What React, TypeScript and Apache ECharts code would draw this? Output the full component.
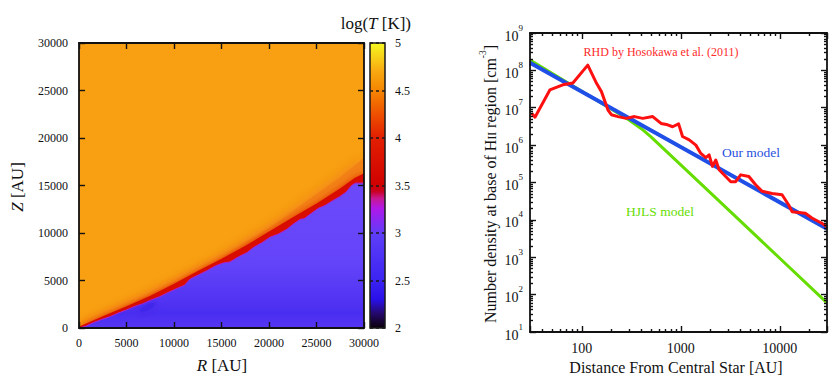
import React, { useEffect, useRef } from "react";
import * as echarts from "echarts";

// ---------- Left panel: temperature map log(T [K]) ----------
const mapTicks = [0, 5000, 10000, 15000, 20000, 25000, 30000];
// jagged boundary between hot (ionised) gas and cold disk (top of blue region)
const boundaryR = [0, 700, 1500, 2400, 3300, 4200, 5000, 5800, 6700, 7600, 8500, 9400, 10300, 11100, 11700, 12600, 13500, 14400, 15200, 15900, 16800, 17700, 18400, 19300, 20100, 21000, 21900, 22500, 23300, 23700, 24500, 25200, 25900, 26700, 27400, 28100, 28700, 29100, 30000];
const boundaryZ = [0, 180, 560, 900, 1200, 1600, 1900, 2250, 2550, 2950, 3300, 3750, 4150, 4500, 5150, 5600, 6050, 6550, 6850, 6950, 7500, 7950, 8500, 9000, 9550, 9900, 10400, 10900, 11450, 11500, 12100, 12600, 12900, 13400, 13800, 14300, 15000, 15250, 15250];
// top of the dark red transition layer
const redBandR = [0, 2500, 5000, 7500, 10000, 12500, 15000, 17500, 20000, 22500, 25000, 27500, 29000, 30000];
const redBandZ = [150, 1250, 2300, 3400, 4650, 6000, 7300, 8650, 10150, 11650, 13100, 14700, 15800, 16300];
// top of the orange-red glow
const glowR = [0, 5000, 10000, 15000, 20000, 22500, 25000, 27500, 29000, 30000];
const glowZ = [150, 2400, 4800, 7450, 10500, 12300, 14100, 15900, 17100, 17900];
const coldSpot = [7200, 2150];
// colour bar
const cbarMin = 2;
const cbarMax = 5;
const cbarStep = 0.5;

// ---------- Right panel: number density ----------
const rhdR = [31.2, 33.7, 47.6, 64.4, 81.3, 115, 141, 158, 184, 199, 232, 281, 341, 413, 521, 632, 737, 827, 951, 1042, 1217, 1421, 1595, 1790, 1933, 2088, 2258, 2438, 2844, 3199, 3590, 4030, 4878, 5700, 6640, 8370, 10550, 12310, 13300, 18120, 21120, 26620, 30000];
const rhdN = [7.1e6, 5.6e6, 3.0e7, 4.1e7, 4.6e7, 1.38e8, 4.5e7, 2.7e7, 8.7e6, 6.5e6, 5.8e6, 5.2e6, 5.8e6, 5.2e6, 5.8e6, 3.8e6, 3.5e6, 3.1e6, 3.7e6, 1.7e6, 1.38e6, 1.0e6, 6.0e5, 4.6e5, 5.5e5, 2.7e5, 4.0e5, 2.2e5, 1.45e5, 1.05e5, 1.05e5, 1.6e5, 1.45e5, 8.7e4, 5.8e4, 5.1e4, 4.7e4, 2.5e4, 1.66e4, 1.5e4, 1.12e4, 8.1e3, 6.6e3];
const hjlsR = [30, 50, 100, 200, 300, 400, 500, 1000, 3000, 10000, 30000];
const hjlsN = [1.9e8, 8.3e7, 2.75e7, 9.1e6, 4.7e6, 2.75e6, 1.67e6, 2.95e5, 1.9e4, 940, 60];
const ourR = [30, 30000];
const ourN = [1.6e8, 5.8e3];
const distMin = 30;
const distMax = 30000;
const densMin = 1e1;
const densMax = 1e9;
const distDecades = [10, 100, 1000, 10000];
const densDecades = [1e1, 1e2, 1e3, 1e4, 1e5, 1e6, 1e7, 1e8];

const zip = (xs: number[], ys: number[]) => xs.map((x, i) => [x, ys[i]]);

export default function App() {
  const ref = useRef<HTMLDivElement>(null);

  useEffect(() => {
    if (!ref.current) return;
    const chart = echarts.init(ref.current, null, { renderer: "svg" });
    const serif = "'Liberation Serif', 'Times New Roman', serif";
    const ink = "#111";

    const xMinor: number[] = [];
    distDecades.forEach((d) => {
      for (let m = 2; m <= 9; m++) {
        const v = m * d;
        if (v > distMin && v < distMax) xMinor.push(Math.log10(v));
      }
    });
    const yMinor: number[] = [];
    densDecades.forEach((d) => {
      for (let m = 2; m <= 9; m++) {
        const v = m * d;
        if (v > densMin && v < densMax) yMinor.push(Math.log10(v));
      }
    });

    const isDecade = (v: number) => Math.abs(Math.log10(v) - Math.round(Math.log10(v))) < 1e-6;

    const cbarGradient = new echarts.graphic.LinearGradient(0, 1, 0, 0, [
      { offset: 0, color: "#0a0008" },
      { offset: 0.05, color: "#24086a" },
      { offset: 0.1, color: "#2a10e8" },
      { offset: 0.17, color: "#3c24f2" },
      { offset: 0.33, color: "#5e3ef8" },
      { offset: 0.38, color: "#8a28f2" },
      { offset: 0.42, color: "#b018e8" },
      { offset: 0.455, color: "#c81890" },
      { offset: 0.48, color: "#c80020" },
      { offset: 0.5, color: "#d00000" },
      { offset: 0.67, color: "#e22000" },
      { offset: 0.75, color: "#ee5000" },
      { offset: 0.83, color: "#f48400" },
      { offset: 0.9, color: "#f8a810" },
      { offset: 1, color: "#f6f820" },
    ]);

    const blueGradient = new echarts.graphic.LinearGradient(0, 0, 0, 1, [
      { offset: 0, color: "#6c4afb" },
      { offset: 0.55, color: "#6444f9" },
      { offset: 0.8, color: "#5234f3" },
      { offset: 0.9, color: "#4a2ef0" },
      { offset: 1, color: "#5536f3" },
    ]);

    const line = { show: true, onZero: false, lineStyle: { color: ink, width: 1.8 } };
    const tick = (len: number) => ({ show: true, inside: true, length: len, lineStyle: { color: ink, width: 1.4 } });
    const noLabel = { show: false };
    const noSplit = { show: false };
    const lbl = { fontFamily: serif, fontSize: 12, color: ink, formatter: (v: number) => String(v) };

    const option: any = {
      animation: false,
      backgroundColor: "#fff",
      grid: [
        { left: 79, top: 43, width: 285, height: 285, show: true, backgroundColor: "#f8a012", borderWidth: 0 },
        { left: 370, top: 43, width: 15, height: 285, show: true, backgroundColor: cbarGradient, borderColor: "#1a1a1a", borderWidth: 1.5 },
        { left: 530, top: 33, width: 298, height: 299, show: false },
      ],
      xAxis: [
        { gridIndex: 0, type: "value", min: mapTicks[0], max: mapTicks[mapTicks.length - 1], interval: 5000, position: "bottom", axisLine: line, axisTick: tick(6), axisLabel: { ...lbl, margin: 9 }, splitLine: noSplit, z: 10 },
        { gridIndex: 0, type: "value", min: mapTicks[0], max: mapTicks[mapTicks.length - 1], interval: 5000, position: "top", axisLine: line, axisTick: tick(6), axisLabel: noLabel, splitLine: noSplit, z: 10 },
        { gridIndex: 1, type: "value", min: 0, max: 1, show: false },
        {
          gridIndex: 2, type: "log", logBase: 10, min: distMin, max: distMax, splitNumber: 3, position: "bottom",
          axisLine: line, axisTick: tick(6), splitLine: noSplit, minorTick: { show: false },
          axisLabel: { fontFamily: serif, fontSize: 14, color: ink, margin: 9, formatter: (v: number) => (isDecade(v) ? String(Math.round(v)) : "") },
          z: 10,
        },
        { gridIndex: 2, type: "log", logBase: 10, min: distMin, max: distMax, splitNumber: 3, position: "top", axisLine: line, axisTick: tick(6), axisLabel: noLabel, splitLine: noSplit, z: 10 },
        { gridIndex: 2, type: "value", min: Math.log10(distMin), max: Math.log10(distMax), position: "bottom", axisLine: { show: false }, axisLabel: noLabel, splitLine: noSplit, axisTick: { ...tick(3), customValues: xMinor }, z: 10 },
        { gridIndex: 2, type: "value", min: Math.log10(distMin), max: Math.log10(distMax), position: "top", axisLine: { show: false }, axisLabel: noLabel, splitLine: noSplit, axisTick: { ...tick(3), customValues: xMinor }, z: 10 },
      ],
      yAxis: [
        { gridIndex: 0, type: "value", min: mapTicks[0], max: mapTicks[mapTicks.length - 1], interval: 5000, position: "left", axisLine: line, axisTick: tick(6), axisLabel: { ...lbl, margin: 11 }, splitLine: noSplit, z: 10 },
        { gridIndex: 0, type: "value", min: mapTicks[0], max: mapTicks[mapTicks.length - 1], interval: 5000, position: "right", axisLine: line, axisTick: tick(6), axisLabel: noLabel, splitLine: noSplit, z: 10 },
        {
          gridIndex: 1, type: "value", min: cbarMin, max: cbarMax, interval: cbarStep, position: "right",
          axisLine: { show: false }, axisTick: { show: false },
          axisLabel: { ...lbl, margin: 10 },
          splitLine: { show: true, lineStyle: { color: "#1a1a1a", width: 1.5, type: [3, 3] } },
          z: 10,
        },
        {
          gridIndex: 2, type: "log", logBase: 10, min: densMin, max: densMax, splitNumber: 8, position: "left",
          axisLine: line, axisTick: tick(6), splitLine: noSplit, minorTick: { show: false },
          axisLabel: {
            margin: 7,
            formatter: (v: number) => `{b|10}{s|${Math.round(Math.log10(v))}}`,
            rich: {
              b: { fontFamily: serif, fontSize: 14, color: ink, lineHeight: 20, verticalAlign: "bottom" },
              s: { fontFamily: serif, fontSize: 9, color: ink, lineHeight: 20, verticalAlign: "top" },
            },
          },
          z: 10,
        },
        { gridIndex: 2, type: "log", logBase: 10, min: densMin, max: densMax, splitNumber: 8, position: "right", axisLine: line, axisTick: tick(6), axisLabel: noLabel, splitLine: noSplit, z: 10 },
        { gridIndex: 2, type: "value", min: Math.log10(densMin), max: Math.log10(densMax), position: "left", axisLine: { show: false }, axisLabel: noLabel, splitLine: noSplit, axisTick: { ...tick(3), customValues: yMinor }, z: 10 },
        { gridIndex: 2, type: "value", min: Math.log10(densMin), max: Math.log10(densMax), position: "right", axisLine: { show: false }, axisLabel: noLabel, splitLine: noSplit, axisTick: { ...tick(3), customValues: yMinor }, z: 10 },
      ],
      series: [
        {
          name: "glow", type: "line", xAxisIndex: 0, yAxisIndex: 0, data: zip(glowR, glowZ), symbol: "none", silent: true,
          lineStyle: { width: 0 }, areaStyle: { color: "#f28218", opacity: 1, shadowBlur: 14, shadowColor: "rgba(242,125,22,0.95)" }, z: 2,
        },
        {
          name: "redBand", type: "line", xAxisIndex: 0, yAxisIndex: 0, data: zip(redBandR, redBandZ), symbol: "none", silent: true,
          lineStyle: { width: 0 }, areaStyle: { color: "#d80e00", opacity: 1, shadowBlur: 7, shadowColor: "rgba(228,50,0,0.95)" }, z: 3,
        },
        {
          name: "disk", type: "line", xAxisIndex: 0, yAxisIndex: 0, data: zip(boundaryR, boundaryZ), symbol: "none", silent: true,
          lineStyle: { width: 1, color: "#a825d8" }, areaStyle: { color: blueGradient, opacity: 1 }, z: 4,
        },
        {
          name: "spot", type: "scatter", xAxisIndex: 0, yAxisIndex: 0, data: [coldSpot], symbol: "circle", symbolSize: [18, 6], symbolRotate: 28, silent: true,
          itemStyle: { color: "#3d24e6", opacity: 0.6, shadowBlur: 6, shadowColor: "#3d24e6" }, z: 5,
        },
        {
          name: "HJLS model", type: "line", xAxisIndex: 3, yAxisIndex: 3, data: zip(hjlsR, hjlsN), symbol: "none",
          lineStyle: { color: "#66dd00", width: 3 }, z: 3,
        },
        {
          name: "Our model", type: "line", xAxisIndex: 3, yAxisIndex: 3, data: zip(ourR, ourN), symbol: "none",
          lineStyle: { color: "#1f4fe6", width: 4 }, z: 4,
        },
        {
          name: "RHD", type: "line", xAxisIndex: 3, yAxisIndex: 3, data: zip(rhdR, rhdN), symbol: "none",
          lineStyle: { color: "#ff1010", width: 3, join: "round" }, z: 5,
        },
      ],
      graphic: [
        {
          type: "text", x: 411, y: 23,
          style: {
            text: "{n|log(}{i|T}{n| [K])}", align: "right", verticalAlign: "middle",
            rich: { n: { fontFamily: serif, fontSize: 17, fill: ink }, i: { fontFamily: serif, fontSize: 17, fontStyle: "italic", fill: ink } },
          },
        },
        {
          type: "text", x: 222, y: 365,
          style: {
            text: "{i|R}{n| [AU]}", align: "center", verticalAlign: "middle",
            rich: { n: { fontFamily: serif, fontSize: 17, fill: ink }, i: { fontFamily: serif, fontSize: 17, fontStyle: "italic", fill: ink } },
          },
        },
        {
          type: "text", x: 17, y: 187, rotation: Math.PI / 2,
          style: {
            text: "{i|Z}{n| [AU]}", align: "center", verticalAlign: "middle",
            rich: { n: { fontFamily: serif, fontSize: 17, fill: ink }, i: { fontFamily: serif, fontSize: 17, fontStyle: "italic", fill: ink } },
          },
        },
        {
          type: "text", x: 488, y: 184, rotation: Math.PI / 2,
          style: {
            text: "{n|Number density at base of H}{sc|II}{n| region [cm}{sup|-3}{n|]}", align: "center", verticalAlign: "middle",
            rich: {
              n: { fontFamily: serif, fontSize: 16, fill: ink, lineHeight: 20, verticalAlign: "bottom" },
              sc: { fontFamily: serif, fontSize: 11.5, fill: ink, lineHeight: 20, verticalAlign: "bottom" },
              sup: { fontFamily: serif, fontSize: 9.5, fill: ink, lineHeight: 20, verticalAlign: "top" },
            },
          },
        },
        {
          type: "text", x: 676, y: 367,
          style: { text: "Distance From Central Star [AU]", font: `16px ${serif}`, fill: ink, align: "center", verticalAlign: "middle" },
        },
        {
          type: "text", x: 661, y: 52,
          style: { text: "RHD by Hosokawa et al. (2011)", font: `12px ${serif}`, fill: "#ff2a2a", align: "center", verticalAlign: "middle" },
        },
        {
          type: "text", x: 751, y: 152,
          style: { text: "Our model", font: `13.5px ${serif}`, fill: "#2850e0", align: "center", verticalAlign: "middle" },
        },
        {
          type: "text", x: 660, y: 211,
          style: { text: "HJLS model", font: `13.5px ${serif}`, fill: "#66dd00", align: "center", verticalAlign: "middle" },
        },
      ],
    };

    chart.setOption(option);
    return () => chart.dispose();
  }, []);

  return <div ref={ref} style={{ position: "fixed", left: 0, top: 0, width: 830, height: 379, background: "#fff" }} />;
}
